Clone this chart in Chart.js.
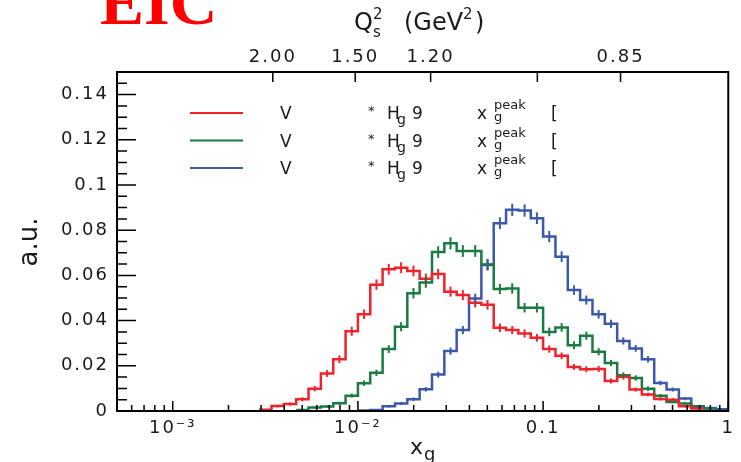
<!DOCTYPE html>
<html>
<head>
<meta charset="utf-8">
<script src="https://cdn.jsdelivr.net/npm/chart.js@4.4.0/dist/chart.umd.min.js"></script>
<style>
html, body { margin: 0; padding: 0; background: #fff; }
</style>
</head>
<body>
<canvas id="c" width="741" height="462"></canvas>
<script>
// histogram binning: 15 log bins per decade starting at 1e-3, first filled bin is #7
var binsPerDecade = 15;
var binStartExp = -3;
var firstBin = 7;

// bins 7 .. 44
var redVals = [0.0005, 0.0022, 0.0031, 0.0052, 0.0099, 0.0166, 0.0229, 0.0353, 0.0428, 0.0559,
  0.0627, 0.0634, 0.0620, 0.0585, 0.0606, 0.0528, 0.0513, 0.0479, 0.0470, 0.0368,
  0.0358, 0.0343, 0.0324, 0.0274, 0.0244, 0.0195, 0.0185, 0.0186, 0.0133, 0.0151,
  0.0095, 0.0073, 0.0053, 0.0050, 0.0021, 0.0011, null, null];
var redErr = [0.0003, 0.0006, 0.0007, 0.0009, 0.0012, 0.0015, 0.0017, 0.0020, 0.0021, 0.0023,
  0.0024, 0.0024, 0.0024, 0.0023, 0.0023, 0.0022, 0.0022, 0.0021, 0.0021, 0.0019,
  0.0018, 0.0018, 0.0017, 0.0016, 0.0015, 0.0013, 0.0013, 0.0013, 0.0011, 0.0012,
  0.0009, 0.0008, 0.0007, 0.0007, 0.0005, 0.0003, null, null];

var greenVals = [null, null, null, 0.0004, 0.0015, 0.0020, 0.0034, 0.0068, 0.0123, 0.0169,
  0.0274, 0.0373, 0.0521, 0.0569, 0.0703, 0.0742, 0.0708, 0.0708, 0.0648, 0.0540,
  0.0542, 0.0457, 0.0457, 0.0350, 0.0370, 0.0291, 0.0333, 0.0262, 0.0212, 0.0158,
  0.0146, 0.0099, 0.0067, 0.0040, 0.0033, 0.0021, 0.0011, null];
var greenErr = [null, null, null, 0.0002, 0.0004, 0.0005, 0.0007, 0.0009, 0.0012, 0.0014,
  0.0017, 0.0020, 0.0023, 0.0024, 0.0026, 0.0027, 0.0026, 0.0026, 0.0025, 0.0023,
  0.0023, 0.0021, 0.0021, 0.0019, 0.0019, 0.0017, 0.0018, 0.0016, 0.0014, 0.0013,
  0.0012, 0.0010, 0.0008, 0.0006, 0.0005, 0.0004, 0.0003, null];

var blueVals = [null, null, null, null, null, null, null, null, 0.0002, 0.0004,
  0.0021, 0.0033, 0.0052, 0.0096, 0.0161, 0.0265, 0.0358, 0.0498, 0.0646, 0.0831,
  0.0890, 0.0887, 0.0853, 0.0772, 0.0683, 0.0535, 0.0491, 0.0428, 0.0386, 0.0310,
  0.0277, 0.0229, 0.0124, 0.0095, 0.0055, 0.0018, 0.0013, 0.0008];
var blueErr = [null, null, null, null, null, null, null, null, 0.0001, 0.0002,
  0.0005, 0.0006, 0.0008, 0.0010, 0.0013, 0.0016, 0.0018, 0.0021, 0.0024, 0.0026,
  0.0027, 0.0027, 0.0026, 0.0025, 0.0024, 0.0021, 0.0020, 0.0019, 0.0018, 0.0016,
  0.0015, 0.0014, 0.0010, 0.0009, 0.0007, 0.0004, 0.0003, 0.0002];

var xTickVals = [1e-3, 1e-2, 0.1, 1];
var xTickLabels = ['10\u207B\u00B3', '10\u207B\u00B2', '0.1', '1'];
var yTickVals = [0, 0.02, 0.04, 0.06, 0.08, 0.1, 0.12, 0.14];
var yTickLabels = ['0', '0.02', '0.04', '0.06', '0.08', '0.1', '0.12', '0.14'];
// Q_s^2 axis on top, placed at the matching x_g
var qsTickPos = [0.00347, 0.00967, 0.0247, 0.0931, 0.262];
var qsTickLabels = ['2.00', '1.50', '1.20', '', '0.85'];

var colors = ['#f0222c', '#1b7a42', '#3b58a9'];
var tickFont = { family: 'DejaVu Sans', size: 18 };
var ink = '#1a1a1a';

function binLo(k) { return Math.pow(10, binStartExp + k / binsPerDecade); }

function stepPoints(vals) {
  var pts = [];
  vals.forEach(function (v, i) {
    if (v === null) return;
    var k = firstBin + i;
    pts.push({ x: binLo(k), y: v });
    pts.push({ x: binLo(k + 1), y: v });
  });
  return pts;
}

function mkSet(vals, errs, col) {
  return {
    data: stepPoints(vals), vals: vals, errs: errs,
    borderColor: col, borderWidth: 2.5, pointRadius: 0, fill: false, tension: 0
  };
}

var errorBars = {
  id: 'errorBars',
  afterDatasetsDraw: function (chart) {
    var ctx = chart.ctx, xs = chart.scales.x, ys = chart.scales.y;
    chart.data.datasets.forEach(function (ds) {
      ctx.save();
      ctx.strokeStyle = ds.borderColor;
      ctx.lineWidth = 2;
      ds.vals.forEach(function (v, i) {
        if (v === null || ds.errs[i] == null) return;
        var k = firstBin + i;
        var px = xs.getPixelForValue(Math.sqrt(binLo(k) * binLo(k + 1)));
        ctx.beginPath();
        ctx.moveTo(px, ys.getPixelForValue(v - ds.errs[i]));
        ctx.lineTo(px, ys.getPixelForValue(v + ds.errs[i]));
        ctx.stroke();
      });
      ctx.restore();
    });
  }
};

function txt(ctx, s, x, y, size, style) {
  ctx.font = (style || '') + ' ' + size + 'px "DejaVu Sans"';
  ctx.fillText(s, x, y);
}

var decor = {
  id: 'decor',
  beforeDraw: function (chart) {
    chart.ctx.letterSpacing = '2px';
  },
  afterDraw: function (chart) {
    var ctx = chart.ctx, a = chart.chartArea;
    var xs = chart.scales.x, ys = chart.scales.y, xt = chart.scales.xTop;
    ctx.save();
    ctx.letterSpacing = '0px';
    ctx.strokeStyle = '#000';
    ctx.lineWidth = 1.5;
    ctx.beginPath();
    // inward ticks on the y axis
    for (var i = 0; i <= 30; i++) {
      var py = ys.getPixelForValue(i * 0.005);
      ctx.moveTo(a.left, py);
      ctx.lineTo(a.left + (i % 4 === 0 ? 19 : 10), py);
    }
    // log ticks on the bottom axis
    for (var d = -4; d <= 0; d++) {
      for (var m = 1; m <= 9; m++) {
        var v = m * Math.pow(10, d);
        if (v < xs.min || v > xs.max) continue;
        var px = xs.getPixelForValue(v);
        ctx.moveTo(px, a.bottom);
        ctx.lineTo(px, a.bottom - (m === 1 ? 10 : 6));
      }
    }
    // top axis ticks
    qsTickPos.forEach(function (v) {
      var px = xt.getPixelForValue(v);
      ctx.moveTo(px, a.top);
      ctx.lineTo(px, a.top + 10);
    });
    ctx.stroke();
    ctx.lineWidth = 2;
    ctx.strokeRect(a.left, a.top, a.right - a.left, a.bottom - a.top);

    // legend
    ctx.fillStyle = ink;
    ctx.textAlign = 'left';
    ctx.textBaseline = 'alphabetic';
    var rows = [113, 140.5, 168];
    rows.forEach(function (ry, r) {
      ctx.strokeStyle = colors[r];
      ctx.lineWidth = 2;
      ctx.beginPath();
      ctx.moveTo(190, ry);
      ctx.lineTo(243, ry);
      ctx.stroke();
      txt(ctx, 'V', 280, ry + 6, 17);
      txt(ctx, '*', 368, ry + 2, 13);
      txt(ctx, 'H', 387, ry + 6, 17);
      txt(ctx, 'g', 397, ry + 11, 14);
      txt(ctx, '9', 412, ry + 6, 17);
      txt(ctx, 'x', 477, ry + 6, 17);
      txt(ctx, 'peak', 494, ry - 4, 13);
      txt(ctx, 'g', 494, ry + 8, 13);
      txt(ctx, '[', 551, ry + 6, 17);
    });

    // axis titles
    txt(ctx, 'Q', 354, 30, 24);
    txt(ctx, 's', 373, 37, 15);
    txt(ctx, '2', 373, 19, 15);
    txt(ctx, '(GeV', 404, 30, 24);
    txt(ctx, '2', 463, 19, 15);
    txt(ctx, ')', 475, 30, 24);

    txt(ctx, 'x', 410, 454, 22);
    txt(ctx, 'g', 424, 460, 18);

    ctx.save();
    ctx.translate(37, 242);
    ctx.rotate(-Math.PI / 2);
    ctx.textAlign = 'center';
    txt(ctx, 'a.u.', 0, 0, 26);
    ctx.restore();

    ctx.fillStyle = '#ff0000';
    ctx.font = 'bold 66px "Liberation Serif"';
    ctx.fillText('EIC', 100, 24);
    ctx.restore();
  }
};

new Chart(document.getElementById('c'), {
  type: 'line',
  data: {
    datasets: [
      mkSet(redVals, redErr, colors[0]),
      mkSet(greenVals, greenErr, colors[1]),
      mkSet(blueVals, blueErr, colors[2])
    ]
  },
  options: {
    responsive: false,
    animation: false,
    layout: { padding: { left: 0, right: 10, top: 0, bottom: 0 } },
    plugins: { legend: { display: false }, tooltip: { enabled: false } },
    scales: {
      x: {
        type: 'logarithmic', position: 'bottom', min: 5e-4, max: 1,
        afterBuildTicks: function (s) { s.ticks = xTickVals.map(function (v) { return { value: v }; }); },
        afterFit: function (s) { s.height = 51; },
        ticks: {
          autoSkip: false, maxRotation: 0, padding: 7, color: ink, font: tickFont,
          callback: function (v, i) { return xTickLabels[i]; }
        },
        grid: { display: false, drawTicks: false },
        border: { display: false }
      },
      xTop: {
        type: 'logarithmic', position: 'top', axis: 'x', min: 5e-4, max: 1,
        afterBuildTicks: function (s) { s.ticks = qsTickPos.map(function (v) { return { value: v }; }); },
        afterFit: function (s) { s.height = 72; },
        ticks: {
          autoSkip: false, maxRotation: 0, padding: 4, color: ink, font: tickFont,
          callback: function (v, i) { return qsTickLabels[i]; }
        },
        grid: { display: false, drawTicks: false },
        border: { display: false }
      },
      y: {
        min: 0, max: 0.15,
        afterBuildTicks: function (s) { s.ticks = yTickVals.map(function (v) { return { value: v }; }); },
        afterFit: function (s) { s.width = 117; },
        ticks: {
          padding: 8, color: ink, font: tickFont,
          callback: function (v, i) { return yTickLabels[i]; }
        },
        grid: { display: false, drawTicks: false },
        border: { display: false }
      }
    }
  },
  plugins: [errorBars, decor]
});
</script>
</body>
</html>
